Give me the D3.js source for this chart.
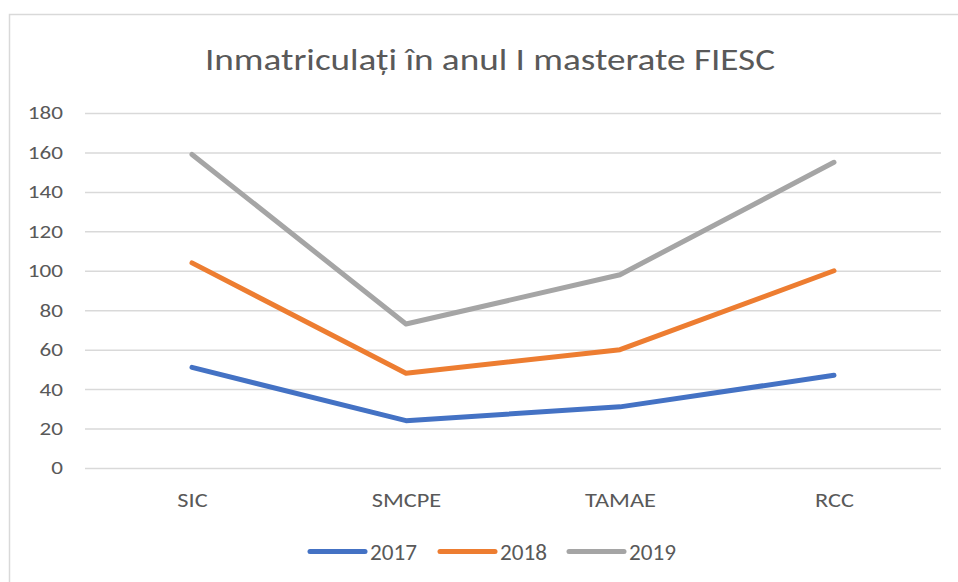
<!DOCTYPE html>
<html>
<head>
<meta charset="utf-8">
<script src="https://cdn.jsdelivr.net/npm/d3@7"></script>
<style>
  body { margin: 0; background: #fff; }
  text { font-family: Calibri, Carlito, Lato, sans-serif; fill: #595959; }
</style>
</head>
<body>
<svg id="chart" width="958" height="582"></svg>
<script>
// data
const categories = ["SIC", "SMCPE", "TAMAE", "RCC"];
const years = ["2017", "2018", "2019"];
const values2017 = [51, 24, 31, 47];
const values2018 = [104, 48, 60, 100];
const values2019 = [159, 73, 98, 155];
const yTicks = [0, 20, 40, 60, 80, 100, 120, 140, 160, 180];
const colors = ["#4472C4", "#ED7D31", "#A5A5A5"];

const series = [values2017, values2018, values2019].map((vals, i) => ({
  name: years[i],
  color: colors[i],
  points: vals.map((v, j) => ({ cat: categories[j], val: v }))
}));

const width = 958;
const height = 582;
const margin = { top: 113, right: 17, bottom: 114, left: 85 };
const stretch = 1.25; // the original text is a bit wider than Lato

const svg = d3.select("#chart");

// chart frame
svg.append("rect")
  .attr("x", 9.5).attr("y", 14.5)
  .attr("width", width + 20).attr("height", height + 20)
  .attr("fill", "#fff")
  .attr("stroke", "#D9D9D9")
  .attr("stroke-width", 1.5);

// scales
const x = d3.scalePoint()
  .domain(categories)
  .range([margin.left, width - margin.right])
  .padding(0.5);

const y = d3.scaleLinear()
  .domain([0, 180])
  .range([height - margin.bottom, margin.top]);

// gridlines
const grid = g => g
  .attr("transform", "translate(" + margin.left + ", 0)")
  .call(d3.axisLeft(y).tickValues(yTicks).tickSize(-(width - margin.right - margin.left)).tickFormat(""))
  .call(g => g.select(".domain").remove())
  .call(g => g.selectAll("line").attr("stroke", "#D9D9D9").attr("stroke-width", 1.5));
svg.append("g").call(grid);

// y axis labels
const yAxis = g => g
  .attr("transform", "translate(63, 0)")
  .call(d3.axisLeft(y).tickValues(yTicks).tickSize(0).tickPadding(0))
  .call(g => g.select(".domain").remove())
  .call(g => g.selectAll("text")
    .attr("x", 0)
    .attr("transform", "scale(" + stretch + ",1)")
    .attr("font-size", 18.5)
    .attr("fill", "#595959")
    .attr("font-family", "Calibri, Carlito, Lato, sans-serif"));
svg.append("g").call(yAxis);

// x axis labels
const xAxis = g => g
  .attr("transform", "translate(0, " + (height - margin.bottom) + ")")
  .call(d3.axisBottom(x).tickSize(0).tickPadding(0))
  .call(g => g.select(".domain").remove())
  .call(g => g.selectAll("text")
    .attr("y", 39)
    .attr("dy", 0)
    .attr("transform", "scale(" + stretch + ",1)")
    .attr("font-size", 19.5)
    .attr("fill", "#595959")
    .attr("font-family", "Calibri, Carlito, Lato, sans-serif"));
svg.append("g").call(xAxis);

// lines
const line = d3.line()
  .x(d => x(d.cat))
  .y(d => y(d.val));

svg.append("g")
  .selectAll("path")
  .data(series)
  .join("path")
  .attr("d", d => line(d.points))
  .attr("fill", "none")
  .attr("stroke", d => d.color)
  .attr("stroke-width", 5)
  .attr("stroke-linecap", "round")
  .attr("stroke-linejoin", "round");

// title
svg.append("text")
  .attr("x", 490)
  .attr("y", 70)
  .attr("text-anchor", "middle")
  .attr("font-size", 30)
  .attr("textLength", 570)
  .attr("lengthAdjust", "spacingAndGlyphs")
  .text("Inmatriculați în anul I masterate FIESC");

// legend
const legendX = d3.scaleOrdinal().domain(years).range([310, 440, 569]);
const legend = svg.append("g")
  .selectAll("g")
  .data(series)
  .join("g")
  .attr("transform", d => "translate(" + legendX(d.name) + ", 551.5)");
legend.append("line")
  .attr("x1", 0).attr("x2", 55)
  .attr("stroke", d => d.color)
  .attr("stroke-width", 5)
  .attr("stroke-linecap", "round");
legend.append("text")
  .attr("x", 60)
  .attr("y", 8)
  .attr("font-size", 22)
  .attr("textLength", 47)
  .attr("lengthAdjust", "spacingAndGlyphs")
  .text(d => d.name);
</script>
</body>
</html>
